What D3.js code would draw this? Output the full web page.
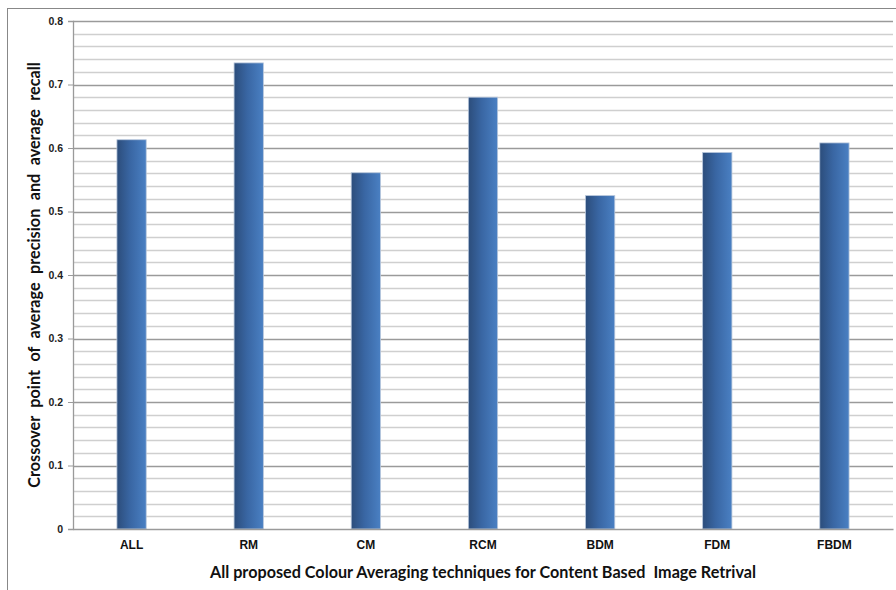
<!DOCTYPE html>
<html>
<head>
<meta charset="utf-8">
<script src="https://cdn.jsdelivr.net/npm/d3@7"></script>
<style>
  html, body { margin: 0; padding: 0; background: #fff; }
  svg { display: block; font-family: Lato, "Open Sans", sans-serif; }
</style>
</head>
<body>
<svg id="chart" width="896" height="590"></svg>
<script>
// Crossover point of average precision and recall per technique
const categories = ["ALL", "RM", "CM", "RCM", "BDM", "FDM", "FBDM"];
const values = [0.613, 0.734, 0.561, 0.680, 0.525, 0.593, 0.608];
const yTicks = [0, 0.1, 0.2, 0.3, 0.4, 0.5, 0.6, 0.7, 0.8];
const minorStep = 0.02;

const svg = d3.select("#chart");
const W = 896, H = 590;
const m = { left: 73, right: 3, top: 21, bottom: 61 };

// outer chart frame
svg.append("rect")
  .attr("x", 7.5).attr("y", 8.5)
  .attr("width", W + 10).attr("height", H + 10)
  .attr("fill", "#fff").attr("stroke", "#888").attr("stroke-width", 1);

const x = d3.scaleBand().domain(categories)
  .range([m.left, W - m.right]).paddingInner(0.75).paddingOuter(0.375);
const y = d3.scaleLinear().domain([0, 0.8]).range([H - m.bottom, m.top]);

// minor gridlines
const minor = d3.range(0, 0.8 + 1e-9, minorStep).filter(v => Math.abs(v * 10 - Math.round(v * 10)) > 1e-6);
svg.append("g").selectAll("line").data(minor).join("line")
  .attr("x1", m.left).attr("x2", W - m.right)
  .attr("y1", d => Math.round(y(d)) + 0.5).attr("y2", d => Math.round(y(d)) + 0.5)
  .attr("stroke", "#cfcfcf").attr("stroke-width", 1.5);

// major gridlines
svg.append("g").selectAll("line").data(yTicks.slice(1)).join("line")
  .attr("x1", m.left).attr("x2", W - m.right)
  .attr("y1", d => Math.round(y(d)) + 0.5).attr("y2", d => Math.round(y(d)) + 0.5)
  .attr("stroke", "#9a9a9a").attr("stroke-width", 1.3);

// bar gradient
const defs = svg.append("defs");
const grad = defs.append("linearGradient").attr("id", "barGrad")
  .attr("x1", "0%").attr("x2", "100%").attr("y1", "0%").attr("y2", "0%");
grad.append("stop").attr("offset", "0%").attr("stop-color", "#2c4d7b");
grad.append("stop").attr("offset", "45%").attr("stop-color", "#3966a3");
grad.append("stop").attr("offset", "100%").attr("stop-color", "#4a80c3");

svg.append("g").selectAll("rect").data(categories).join("rect")
  .attr("x", d => x(d))
  .attr("y", (d, i) => y(values[i]))
  .attr("width", x.bandwidth())
  .attr("height", (d, i) => y(0) - y(values[i]))
  .attr("fill", "url(#barGrad)")
  .attr("stroke", "#b8c7dc").attr("stroke-width", 0.8);

// y axis
const yAxis = svg.append("g")
  .attr("transform", `translate(${m.left},0)`)
  .call(d3.axisLeft(y).tickValues(yTicks).tickSize(5).tickPadding(5)
    .tickFormat(d => d === 0 ? "0" : d3.format(".1f")(d)));
yAxis.select(".domain").attr("stroke", "#9a9a9a").attr("stroke-width", 1.3);
yAxis.selectAll(".tick line").attr("stroke", "#9a9a9a");
yAxis.selectAll(".tick text")
  .attr("font-size", 10.5).attr("font-weight", 700).attr("fill", "#222");

// x axis
const xAxis = svg.append("g")
  .attr("transform", `translate(0,${y(0)})`)
  .call(d3.axisBottom(x).tickSize(0).tickPadding(11));
xAxis.select(".domain").attr("stroke", "#9a9a9a").attr("stroke-width", 1.5);
xAxis.selectAll(".tick text")
  .attr("font-size", 12).attr("font-weight", 700).attr("fill", "#111");

// axis titles
svg.append("text")
  .attr("x", 483).attr("y", 578)
  .attr("text-anchor", "middle")
  .attr("font-size", 16.2).attr("font-weight", 700).attr("fill", "#111")
  .text("All proposed Colour Averaging techniques for Content Based\u00a0 Image Retrival");

svg.append("text")
  .attr("transform", "translate(40,275) rotate(-90)")
  .attr("text-anchor", "middle")
  .attr("font-size", 16.2).attr("font-weight", 700).attr("fill", "#111")
  .attr("word-spacing", 4.5)
  .text("Crossover point of average precision and average recall");
</script>
</body>
</html>
